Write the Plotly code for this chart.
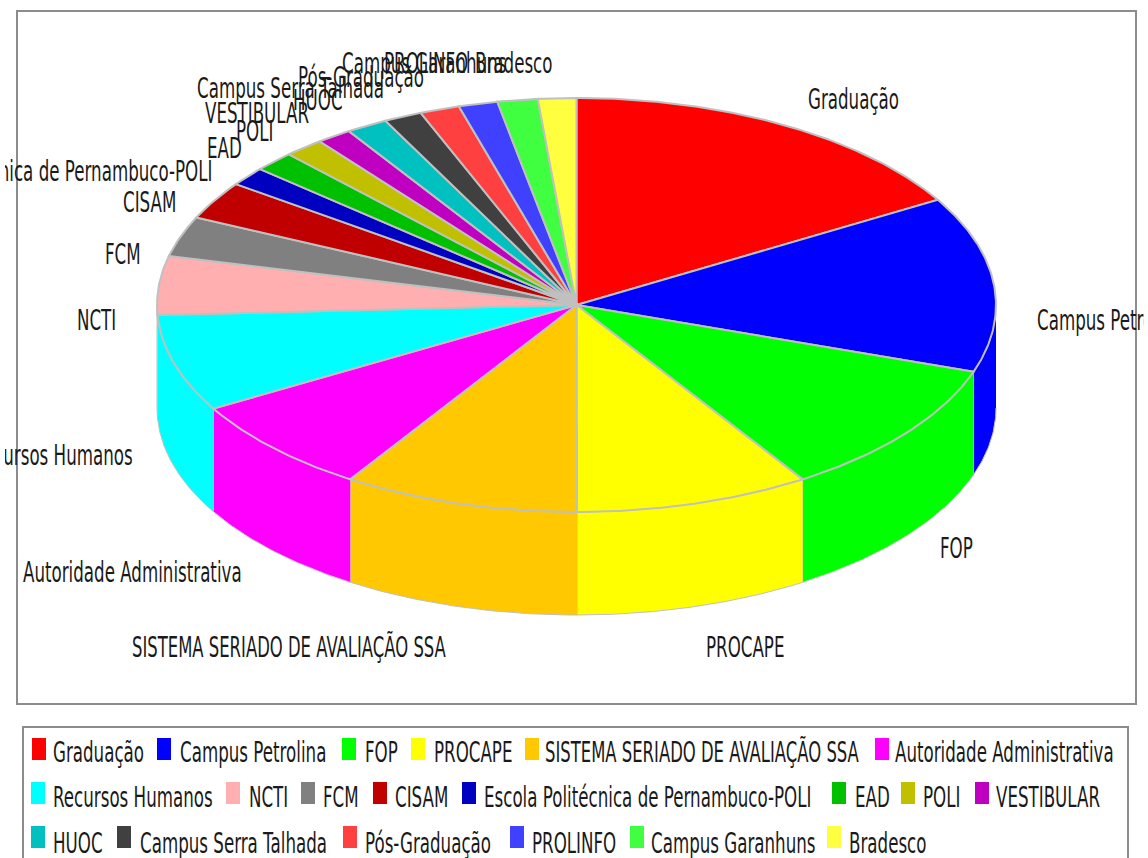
import math
import plotly.graph_objects as go

categories = ["Graduação", "Campus Petrolina", "FOP", "PROCAPE", "SISTEMA SERIADO DE AVALIAÇÃO SSA",
              "Autoridade Administrativa", "Recursos Humanos", "NCTI", "FCM", "CISAM",
              "Escola Politécnica de Pernambuco-POLI", "EAD", "POLI", "VESTIBULAR", "HUOC",
              "Campus Serra Talhada", "Pós-Graduação", "PROLINFO", "Campus Garanhuns", "Bradesco"]
values = [16.5, 13.7, 10.7, 9.03, 9.08, 7.58, 7.56, 4.58, 3.14, 2.97,
          1.47, 1.58, 1.53, 1.36, 1.6, 1.47, 1.53, 1.5, 1.55, 1.47]
colors = ["#FF0000", "#0000FF", "#00FF00", "#FFFF00", "#FFC800", "#FF00FF", "#00FFFF", "#FFAFAF",
          "#808080", "#C00000", "#0000C0", "#00C000", "#C0C000", "#C000C0", "#00C0C0", "#404040",
          "#FF4040", "#4040FF", "#40FF40", "#FFFF40"]

# layout (pixels of the 1148x858 page)
CX, CY, RX, RY, DEPTH = 576.5, 305, 419.5, 207, 103
FONT = "DejaVu Sans"
FS = 16.7
FS_CAPS = 16.45
label_pos = [(808, 99, "left"), (1037, 320, "left"), (940, 548, "left"), (706, 647, "left"),
             (132, 647, "left"), (242, 572, "right"), (133, 455, "right"), (116, 320, "right"),
             (141, 254, "right"), (176, 202, "right"), (212, 171, "right"), (242, 148, "right"),
             (273, 131, "right"), (309, 113, "right"), (343, 100, "right"), (384, 88, "right"),
             (424, 77, "right"), (468, 63, "right"), (507, 63, "right"), (552, 63, "right")]
legend_swatch = [(32, 750), (157, 750), (342, 750), (411, 750), (525, 750), (875, 750),
                 (31, 794), (226, 794), (301, 794), (373, 794), (462, 794), (832, 794), (901, 794), (975, 794),
                 (31, 838), (117, 838), (343, 838), (510, 838), (630, 838), (827, 838)]
legend_text_x = [53, 180, 365, 434, 545, 895, 53, 249, 323, 395, 484, 855, 923, 996,
                 53, 140, 365, 532, 651, 849]
legend_text_y = [752, 797, 843]


def pt(theta, dy=0):
    return CX + RX * math.sin(theta), CY - RY * math.cos(theta) + dy


def arc(a, b, dy=0):
    n = max(2, int(abs(b - a) / 0.01))
    return [pt(a + (b - a) * i / n, dy) for i in range(n + 1)]


total = sum(values)
edges = [0.0]
for v in values:
    edges.append(edges[-1] + v / total * 2 * math.pi)

fig = go.Figure()


def poly(points, fill, line, width):
    xs = [p[0] for p in points]
    ys = [p[1] for p in points]
    fig.add_trace(go.Scatter(x=xs, y=ys, mode="lines", fill="toself", fillcolor=fill,
                             line=dict(color=line, width=width), hoverinfo="skip", showlegend=False))


# side walls: only the front half (pi/2..3pi/2) is visible
for i, c in enumerate(colors):
    a = max(edges[i], math.pi / 2)
    b = min(edges[i + 1], 3 * math.pi / 2)
    if b > a:
        poly(arc(a, b) + arc(b, a, DEPTH), c, "#C0C0C0", 1)

# top faces
for i, c in enumerate(colors):
    poly([(CX, CY)] + arc(edges[i], edges[i + 1]) + [(CX, CY)], c, "#C0C0C0", 2)


def text_font(name):
    return dict(family=FONT, size=FS_CAPS if name.isupper() and len(name) > 20 else FS, color="#1a1a1a")


shapes = [dict(type="rect", x0=17, y0=11, x1=1136, y1=704, line=dict(color="#8C8C8C", width=2), layer="below"),
          dict(type="rect", x0=23, y0=727, x1=1128, y1=880, line=dict(color="#8C8C8C", width=2), layer="below")]
annotations = []
for name, (x, y, anchor) in zip(categories, label_pos):
    annotations.append(dict(x=x, y=y, xref="x", yref="y", text=name, showarrow=False, xanchor=anchor,
                            xshift=-2 if anchor == "left" else 2,
                            yanchor="middle", font=text_font(name)))
for i, (name, c) in enumerate(zip(categories, colors)):
    sx, sy = legend_swatch[i]
    shapes.append(dict(type="rect", x0=sx, x1=sx + 14, y0=sy - 12, y1=sy + 10, fillcolor=c, line=dict(width=0)))
    row = 0 if i < 6 else (1 if i < 14 else 2)
    annotations.append(dict(x=legend_text_x[i], y=legend_text_y[row], xref="x", yref="y", text=name, showarrow=False,
                            xanchor="left", xshift=-2, yanchor="middle", font=text_font(name)))

fig.update_layout(width=1148, height=858, margin=dict(l=0, r=0, t=0, b=0), paper_bgcolor="white",
                  plot_bgcolor="white", shapes=shapes, annotations=annotations, showlegend=False,
                  xaxis=dict(range=[0, 1148], visible=False, fixedrange=True),
                  yaxis=dict(range=[858, 0], visible=False, fixedrange=True))

# the reference's text is stretched vertically: scale each text about its own middle;
# its labels also stop about 4 px short of the picture's sides
stretch = """
document.body.style.margin='0';
document.querySelectorAll('.annotation-text').forEach(function(t){
  var b=t.getBBox(), c=b.y+b.height/2;
  t.setAttribute('transform','translate(0,'+c+') scale(1,1.67) translate(0,'+(-c)+')');
});
[['left','5px'],['right','4px']].forEach(function(s){
  var d=document.createElement('div');
  d.style.cssText='position:fixed;top:0;height:100%;background:#fff;width:'+s[1]+';'+s[0]+':0';
  document.body.appendChild(d);
});
"""
fig.write_html("out.html", config=dict(displayModeBar=False), post_script=stretch)
